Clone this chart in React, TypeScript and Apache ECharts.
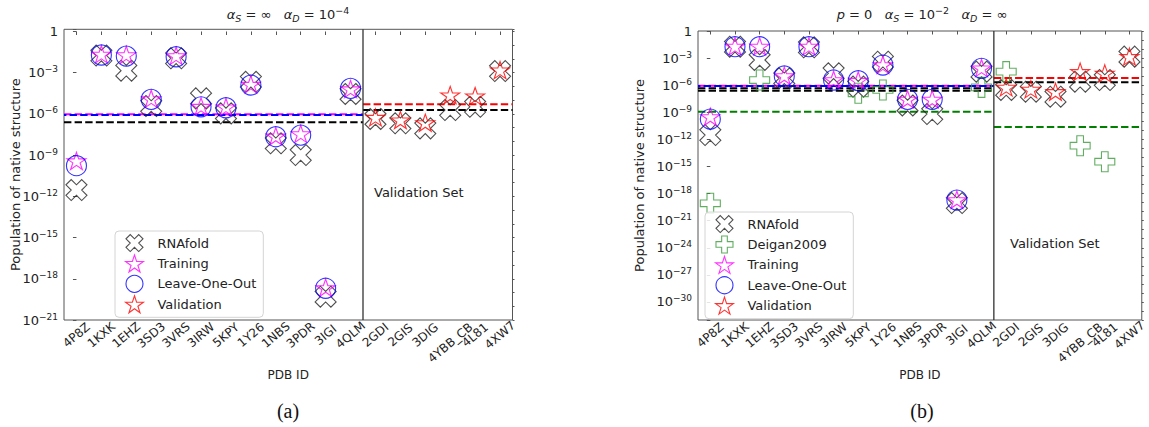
import React, { useEffect, useRef } from 'react';
import * as echarts from 'echarts';

// PDB entries: the first 12 form the training set, the last 6 the validation set
const pdbIds = ['4P8Z', '1KXK', '1EHZ', '3SD3', '3VRS', '3IRW', '5KPY', '1Y26', '1NBS', '3PDR', '3IGI', '4QLM', '2GDI', '2GIS', '3DIG', '4YBB_CB', '4L81', '4XW7'];
const trainingCount = 12;

// (a) alpha_S = inf, alpha_D = 1e-4 : population of the native structure
const rnafoldA = [2.88e-12, 1.78e-2, 1.41e-3, 3.72e-6, 1.12e-2, 1.35e-5, 1.1e-6, 2.19e-4, 7.24e-9, 1.02e-9, 5.0e-20, 2.82e-5, 4.27e-7, 2.09e-7, 8.91e-8, 1.91e-6, 3.31e-6, 1.32e-3];
const trainingA = [3.8e-10, 2.19e-2, 2.0e-2, 1.26e-5, 1.7e-2, 3.55e-6, 3.16e-6, 1.41e-4, 2.4e-8, 3.55e-8, 2.24e-19, 6.61e-5];
const leaveOneOutA = [1.7e-10, 1.95e-2, 1.62e-2, 1.15e-5, 1.45e-2, 3.31e-6, 2.82e-6, 1.26e-4, 2.19e-8, 2.88e-8, 2.04e-19, 7.24e-5];
const validationA = [5.62e-7, 3.63e-7, 2.29e-7, 2.4e-5, 2.0e-5, 1.55e-3];
// (a) geometric-mean levels (dashed lines)
const trainMeansA = [2.45e-7, 9.33e-7, 8.32e-7]; // RNAfold, Training, Leave-One-Out
const validationMeansA = [1.91e-6, 5.01e-6]; // RNAfold, Validation

// (b) p = 0, alpha_S = 1e-2, alpha_D = inf
const rnafoldB = [3.02e-12, 1.82e-2, 6.17e-4, 5.75e-6, 1.58e-2, 2.04e-5, 6.92e-7, 3.98e-4, 5.62e-9, 6.31e-10, 8.91e-20, 3.16e-5, 2.95e-7, 1.91e-7, 5.37e-8, 2.45e-6, 3.72e-6, 1.45e-3];
const deiganB = [8.32e-20, null, 3.72e-6, null, null, null, 1.26e-7, 2.95e-7, null, null, null, 5.75e-7, 3.16e-5, null, null, 2.0e-13, 3.39e-15, null];
const trainingB = [3.24e-10, 2.0e-2, 2.0e-2, 1.12e-5, 2.0e-2, 3.98e-6, 3.39e-6, 1.82e-4, 2.82e-8, 2.82e-8, 2.09e-19, 7.94e-5];
const leaveOneOutB = [1.78e-10, 1.82e-2, 1.82e-2, 1.05e-5, 1.82e-2, 3.72e-6, 3.16e-6, 1.7e-4, 2.69e-8, 2.69e-8, 1.91e-19, 7.41e-5];
const validationB = [5.75e-7, 3.47e-7, 1.91e-7, 3.16e-5, 2.04e-5, 1.45e-3];
// (b) geometric-mean levels (dashed lines)
const trainMeansB = [4.47e-7, 2.45e-7, 1.17e-9, 8.91e-7, 8.32e-7]; // RNAfold (2), Deigan2009, Training, Leave-One-Out
const validationMeansB = [2.09e-6, 2.34e-11, 6.31e-6]; // RNAfold, Deigan2009, Validation

const FONT = 'DejaVu Sans';
const TEXT = '#222';
const SPINE = '#555';
const C_RNAFOLD = '#222';
const C_DEIGAN = '#3a9a3a';
const C_TRAIN = '#ff00ff';
const C_LOO = '#0000ff';
const C_VAL = '#ff0000';

// marker outlines
const X_PATH = 'path://M3,0L4,1L3,2L4,3L3,4L2,3L1,4L0,3L1,2L0,1L1,0L2,1Z';
const PLUS_PATH = 'path://M1,0L2,0L2,1L3,1L3,2L2,2L2,3L1,3L1,2L0,2L0,1L1,1Z';
function starPath(): string {
  const pts: string[] = [];
  for (let k = 0; k < 10; k++) {
    const r = k % 2 === 0 ? 1 : 0.381966;
    const a = -Math.PI / 2 + (k * Math.PI) / 5;
    pts.push(`${(50 + 50 * r * Math.cos(a)).toFixed(2)},${(50 + 50 * r * Math.sin(a)).toFixed(2)}`);
  }
  return 'path://M' + pts.join('L') + 'Z';
}
const STAR_PATH = starPath();

type Num = number | null;
const logA = (v: Num) => (v == null ? '-' : Math.log10(v));
const logB = (v: Num) => (v == null ? '-' : -Math.log10(v)); // panel (b) uses an inverted axis

const allSlots = (vals: Num[], f: (v: Num) => any) => vals.map(f);
const trainSlots = (vals: Num[], f: (v: Num) => any) => pdbIds.map((_, i) => (i < trainingCount ? f(vals[i]) : '-'));
const valSlots = (vals: Num[], f: (v: Num) => any) => pdbIds.map((_, i) => (i >= trainingCount ? f(vals[i - trainingCount]) : '-'));

function scatter(name: string, data: any[], symbol: string, size: any, color: string, ax: number, ay: number) {
  return {
    name,
    type: 'scatter',
    xAxisIndex: ax,
    yAxisIndex: ay,
    data,
    symbol,
    symbolSize: size,
    symbolKeepAspect: true,
    itemStyle: { color: 'rgba(0,0,0,0)', borderColor: color, borderWidth: 1.1 },
    emphasis: { disabled: true },
    silent: true,
    z: 3,
  };
}

function meanLine(level: number, x0: number, x1: number, color: string, ax: number, ay: number, f: (v: Num) => any, dashOffset = 0) {
  const y = f(level);
  return {
    type: 'line',
    xAxisIndex: ax,
    yAxisIndex: ay,
    data: [[x0, y], [x1, y]],
    symbol: 'none',
    silent: true,
    lineStyle: { color, width: 2, type: [7.4, 3.2], dashOffset },
    z: 2,
  };
}

function divider(ax: number, ay: number, y0: number, y1: number) {
  return {
    type: 'line',
    xAxisIndex: ax,
    yAxisIndex: ay,
    data: [[trainingCount - 0.5, y0], [trainingCount - 0.5, y1]],
    symbol: 'none',
    silent: true,
    lineStyle: { color: '#333', width: 1.3 },
    z: 2,
  };
}

const tickRich = {
  b: { fontSize: 13, fontFamily: FONT, color: TEXT, lineHeight: 16 },
  sup: { fontSize: 9, fontFamily: FONT, color: TEXT, lineHeight: 9, verticalAlign: 'top' },
};

function expLabel(n: number) {
  if (n === 0) return '{b|1}';
  return `{b|10}{sup|−${Math.abs(n)}}`;
}

const fmtA = (v: number) => {
  const n = Math.round(v);
  if (Math.abs(v - n) > 1e-6 || n % 3 !== 0) return '';
  return expLabel(n);
};
const fmtB = (v: number) => {
  const n = Math.round(v);
  if (Math.abs(v - n) > 1e-6 || n % 3 !== 0) return '';
  return expLabel(-n);
};

// long ids get a padded box so that every rotated label hangs from the same line
const xLabelRich = {
  s: { fontSize: 12, fontFamily: FONT, color: TEXT },
  l: { fontSize: 12, fontFamily: FONT, color: TEXT, padding: [12, 10, 0, 0] },
};
const xLabelFmt = (id: string) => (id.length > 5 ? `{l|${id}}` : `{s|${id}}`);

function categoryAxis(grid: number) {
  return {
    type: 'category',
    gridIndex: grid,
    data: pdbIds,
    boundaryGap: true,
    axisLine: { show: false },
    axisTick: { show: true, alignWithLabel: true, length: 3.5, lineStyle: { color: SPINE } },
    axisLabel: { interval: 0, rotate: 40, align: 'center', verticalAlign: 'middle', margin: 15, fontSize: 12, fontFamily: FONT, color: TEXT, formatter: xLabelFmt, rich: xLabelRich },
    splitLine: { show: false },
    name: 'PDB ID',
    nameLocation: 'middle',
    nameGap: 49,
    nameMoveOverlap: false,
    nameTextStyle: { fontSize: 12, fontFamily: FONT, color: TEXT },
  };
}

function hiddenValueX(grid: number) {
  return { type: 'value', gridIndex: grid, min: -0.5, max: pdbIds.length - 0.5, show: false };
}

function yMajor(grid: number, min: number, max: number, inverse: boolean, fmt: (v: number) => string, nameGap: number) {
  return {
    type: 'value',
    gridIndex: grid,
    min,
    max,
    interval: 3,
    inverse,
    axisLine: { show: false },
    axisTick: { show: true, length: 3.5, lineStyle: { color: SPINE } },
    axisLabel: { formatter: fmt, rich: tickRich, margin: 6 },
    splitLine: { show: false },
    name: 'Population of native structure',
    nameLocation: 'middle',
    nameGap,
    nameMoveOverlap: false,
    nameTextStyle: { fontSize: 13, fontFamily: FONT, color: TEXT },
  };
}

function yMinor(grid: number, min: number, max: number, inverse: boolean) {
  return {
    type: 'value',
    gridIndex: grid,
    min,
    max,
    interval: 1,
    inverse,
    axisLine: { show: false },
    axisTick: { show: true, length: 2, lineStyle: { color: SPINE } },
    axisLabel: { show: false },
    splitLine: { show: false },
  };
}

const legendBase = {
  orient: 'vertical',
  padding: [3, 7, 4, 10],
  itemGap: 2.3,
  itemWidth: 18,
  itemHeight: 17,
  backgroundColor: 'rgba(255,255,255,0.85)',
  borderColor: '#d4d4d4',
  borderWidth: 1,
  borderRadius: 4,
  selectedMode: false,
  textStyle: { fontSize: 13, fontFamily: FONT, color: TEXT, padding: [0, 0, 0, 9] },
};

const legendItem = (name: string, icon: string, color: string) => ({
  name,
  icon,
  itemStyle: { color: 'rgba(0,0,0,0)', borderColor: color, borderWidth: 1.1 },
});

// math-style panel titles: italic symbols, sub/superscripts, spaced relations
const TF = 13;
const NB = '\u00a0';
const titleRich = {
  n: { fontSize: TF, fontFamily: FONT, color: TEXT, lineHeight: 18 },
  i: { fontSize: TF, fontFamily: FONT, fontStyle: 'italic', color: TEXT, lineHeight: 18 },
  s: { fontSize: 9.5, fontFamily: FONT, fontStyle: 'italic', color: TEXT, lineHeight: 10, verticalAlign: 'bottom' },
  sup: { fontSize: 9.5, fontFamily: FONT, color: TEXT, lineHeight: 10, verticalAlign: 'top' },
};
const EQ = `{n|${NB}=${NB}}`;
const GAP = `{n|${NB}${NB}${NB}}`;
const titleA = `{i|α}{s|S}${EQ}{n|∞}${GAP}{i|α}{s|D}${EQ}{n|10}{sup|−4}`;
const titleB = `{i|p}${EQ}{n|0}${GAP}{i|α}{s|S}${EQ}{n|10}{sup|−2}${GAP}{i|α}{s|D}${EQ}{n|∞}`;

const panelTitle = (text: string, centerX: number) => ({
  text,
  left: centerX,
  top: 5,
  padding: 0,
  textAlign: 'center',
  textStyle: { fontSize: TF, fontFamily: FONT, color: TEXT, fontWeight: 'normal', rich: titleRich },
});

function buildOption() {
  const tEnd = trainingCount - 0.5;
  const vEnd = pdbIds.length - 0.5;
  return {
    animation: false,
    backgroundColor: '#fff',
    title: [panelTitle(titleA, 288), panelTitle(titleB, 922)],
    grid: [
      { left: 64, top: 29.3, width: 448.5, height: 290.7, show: true, borderColor: SPINE, borderWidth: 1, backgroundColor: 'transparent' },
      { left: 698, top: 31, width: 449, height: 289, show: true, borderColor: SPINE, borderWidth: 1, backgroundColor: 'transparent' },
    ],
    xAxis: [categoryAxis(0), hiddenValueX(0), categoryAxis(1), hiddenValueX(1)],
    yAxis: [
      yMajor(0, -21, 0.16, false, fmtA, 42),
      yMinor(0, -21, 0.16, false),
      yMajor(1, 0, 32, true, fmtB, 52),
      yMinor(1, 0, 32, true),
    ],
    legend: [
      {
        ...legendBase,
        left: 115,
        top: 231,
        data: [
          legendItem('RNAfold', X_PATH, C_RNAFOLD),
          legendItem('Training', STAR_PATH, C_TRAIN),
          legendItem('Leave-One-Out', 'circle', C_LOO),
          legendItem('Validation', STAR_PATH, C_VAL),
        ],
      },
      {
        ...legendBase,
        left: 705,
        top: 212,
        data: [
          legendItem('RNAfold', X_PATH, C_RNAFOLD),
          legendItem('Deigan2009', PLUS_PATH, C_DEIGAN),
          legendItem('Training', STAR_PATH, C_TRAIN),
          legendItem('Leave-One-Out', 'circle', C_LOO),
          legendItem('Validation', STAR_PATH, C_VAL),
        ],
      },
    ],
    graphic: [
      { type: 'text', x: 374, y: 192, style: { text: 'Validation Set', fontSize: 13, fontFamily: FONT, fill: TEXT, align: 'left', verticalAlign: 'middle' } },
      { type: 'text', x: 1010, y: 243, style: { text: 'Validation Set', fontSize: 13, fontFamily: FONT, fill: TEXT, align: 'left', verticalAlign: 'middle' } },
      { type: 'text', x: 288, y: 411, style: { text: '(a)', fontSize: 20, fontFamily: 'Liberation Serif', fill: '#111', align: 'center', verticalAlign: 'middle' } },
      { type: 'text', x: 922, y: 411, style: { text: '(b)', fontSize: 20, fontFamily: 'Liberation Serif', fill: '#111', align: 'center', verticalAlign: 'middle' } },
    ],
    series: [
      // panel (a)
      meanLine(trainMeansA[0], -0.5, tEnd, '#000', 1, 0, logA),
      meanLine(trainMeansA[1], -0.5, tEnd, C_TRAIN, 1, 0, logA),
      meanLine(trainMeansA[2], -0.5, tEnd, C_LOO, 1, 0, logA, 5),
      meanLine(validationMeansA[0], tEnd, vEnd, '#000', 1, 0, logA),
      meanLine(validationMeansA[1], tEnd, vEnd, C_VAL, 1, 0, logA),
      divider(1, 0, -21, 0.16),
      scatter('RNAfold', allSlots(rnafoldA, logA), X_PATH, 21, C_RNAFOLD, 0, 0),
      scatter('Training', trainSlots(trainingA, logA), STAR_PATH, [19, 18], C_TRAIN, 0, 0),
      scatter('Leave-One-Out', trainSlots(leaveOneOutA, logA), 'circle', 20, C_LOO, 0, 0),
      scatter('Validation', valSlots(validationA, logA), STAR_PATH, [19, 18], C_VAL, 0, 0),
      // panel (b)
      meanLine(trainMeansB[0], -0.5, tEnd, '#000', 3, 2, logB),
      meanLine(trainMeansB[1], -0.5, tEnd, '#000', 3, 2, logB),
      meanLine(trainMeansB[2], -0.5, tEnd, '#008000', 3, 2, logB),
      meanLine(trainMeansB[3], -0.5, tEnd, C_TRAIN, 3, 2, logB),
      meanLine(trainMeansB[4], -0.5, tEnd, C_LOO, 3, 2, logB, 5),
      meanLine(validationMeansB[0], tEnd, vEnd, '#000', 3, 2, logB),
      meanLine(validationMeansB[1], tEnd, vEnd, '#008000', 3, 2, logB),
      meanLine(validationMeansB[2], tEnd, vEnd, C_VAL, 3, 2, logB),
      divider(3, 2, 0, 32),
      scatter('RNAfold', allSlots(rnafoldB, logB), X_PATH, 21, C_RNAFOLD, 2, 2),
      scatter('Deigan2009', allSlots(deiganB, logB), PLUS_PATH, 20, C_DEIGAN, 2, 2),
      scatter('Training', trainSlots(trainingB, logB), STAR_PATH, [19, 18], C_TRAIN, 2, 2),
      scatter('Leave-One-Out', trainSlots(leaveOneOutB, logB), 'circle', 20, C_LOO, 2, 2),
      scatter('Validation', valSlots(validationB, logB), STAR_PATH, [19, 18], C_VAL, 2, 2),
    ],
  };
}

export default function App() {
  const ref = useRef<HTMLDivElement>(null);
  useEffect(() => {
    if (!ref.current) return;
    const chart = echarts.init(ref.current, undefined, { renderer: 'svg' });
    chart.setOption(buildOption() as any);
    return () => chart.dispose();
  }, []);
  return <div ref={ref} style={{ position: 'absolute', left: 0, top: 0, width: 1149, height: 427, background: '#fff' }} />;
}
